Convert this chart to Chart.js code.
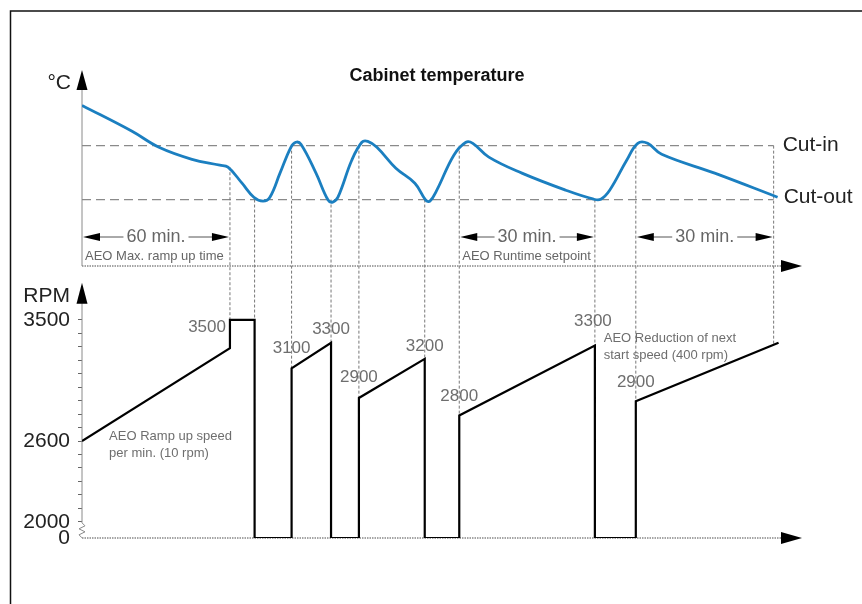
<!DOCTYPE html>
<html>
<head>
<meta charset="utf-8">
<title>Cabinet temperature</title>
<script src="https://cdn.jsdelivr.net/npm/chart.js@4.4.0/dist/chart.umd.min.js"></script>
<style>
  html, body { margin: 0; padding: 0; background: #fff; }
  #wrap { width: 862px; height: 604px; }
</style>
</head>
<body>
<div id="wrap"><canvas id="chart" width="862" height="604"></canvas></div>
<script>
// temperature curve (time in min, schematic °C)
const tempTimes = [0, 20.3, 31.2, 44.6, 55.9, 59.2, 64.9, 69.7, 73.4, 76.2, 80.3, 84.7, 86.7, 88.8,
  94.9, 99.8, 101.7, 103.8, 109.4, 113.5, 115.9, 119.6, 127.3, 135, 139.4, 141.1, 143.9, 150.8,
  155.7, 158.5, 165, 178.4, 196.2, 207.5, 210.4, 214, 220.9, 225.4, 229.4, 235.1, 256.6, 282.1];
const tempValues = [9.24, 7.8, 6.91, 6.24, 5.91, 5.8, 4.91, 4.13, 3.91, 4.13, 5.47, 6.91, 7.19, 7.08,
  5.47, 3.97, 3.86, 4.13, 6.19, 7.19, 7.24, 6.91, 5.74, 4.91, 3.97, 3.91, 4.52, 6.47,
  7.19, 7.13, 6.36, 5.47, 4.52, 4.02, 4.02, 4.52, 6.19, 7.13, 7.13, 6.52, 5.47, 4.13];
const cutIn = 7;
const cutOut = 4;
const thresholdEnd = 280.5;

// compressor speed (0 = off)
const rpmTimes = [0, 60, 60, 70, 70, 85, 85, 101, 101, 112.3, 112.3, 139, 139, 153, 153, 208, 208, 224.6, 224.6, 282.5];
const rpmValues = [2600, 3290, 3500, 3500, 0, 0, 3140, 3330, 0, 0, 2920, 3210, 0, 0, 2790, 3310, 0, 0, 2896, 3330];
const rpmTickLabels = [2000, 2600, 3500];

// switching moments linking both plots
const markerTimes = [60, 70, 85, 101, 112.3, 139, 153, 208, 224.6, 280.5];
const markerTemp = [5.8, 4, 7, 4, 7, 4, 7, 4, 7, 7];
const markerRpm = [3290, 3500, 3140, 3330, 2920, 3210, 2790, 3310, 2896, 3315];

// speed labels at each start / stop
const speedLabels = ['3500', '3100', '3300', '2900', '3200', '2800', '3300', '2900'];
const speedLabelTimes = [60, 85, 101, 112.3, 139, 153, 208, 224.6];
const speedLabelRpm = [3500, 3140, 3330, 2920, 3210, 2790, 3310, 2896];

// time spans
const spanStart = [0, 153, 224.6];
const spanEnd = [60, 208, 280.5];
const spanLabels = ['60 min.', '30 min.', '30 min.'];
const spanNotes = ['AEO Max. ramp up time', 'AEO Runtime setpoint', ''];

const RPM_BREAK = 1880; // where "0" sits below the axis break
const FONT = '"Liberation Sans", Arial, sans-serif';

function tri(ctx, x, y, dir, len, half) {
  ctx.beginPath();
  ctx.moveTo(x, y);
  if (dir === 'up') { ctx.lineTo(x - half, y + len); ctx.lineTo(x + half, y + len); }
  else if (dir === 'right') { ctx.lineTo(x - len, y - half); ctx.lineTo(x - len, y + half); }
  else { ctx.lineTo(x + len, y - half); ctx.lineTo(x + len, y + half); }
  ctx.closePath();
  ctx.fill();
}
function seg(ctx, x0, y0, x1, y1) {
  ctx.beginPath(); ctx.moveTo(x0, y0); ctx.lineTo(x1, y1); ctx.stroke();
}

const decor = {
  id: 'decor',
  beforeDatasetsDraw(chart) {
    const { ctx, scales: { x, yT, yR } } = chart;
    const X = v => x.getPixelForValue(v);
    const T = v => yT.getPixelForValue(v);
    const R = v => yR.getPixelForValue(v === 0 ? RPM_BREAK : v);
    const ax = X(0);
    ctx.save();

    // cut-in / cut-out levels
    ctx.strokeStyle = '#8a8a8a'; ctx.lineWidth = 1.2; ctx.setLineDash([9, 5]);
    [cutIn, cutOut].forEach(v => seg(ctx, ax, T(v), X(thresholdEnd), T(v)));

    // switching markers
    ctx.strokeStyle = '#777'; ctx.lineWidth = 1; ctx.setLineDash([3, 2]);
    markerTimes.forEach((t, i) => seg(ctx, X(t), T(markerTemp[i]), X(t), R(markerRpm[i])));

    // x axes (dotted) with arrows
    ctx.strokeStyle = '#888'; ctx.lineWidth = 1.5; ctx.setLineDash([1.5, 1]);
    const xr = X(x.max);
    [T(yT.min), R(0)].forEach(y => seg(ctx, ax, y, xr - 18, y));
    ctx.setLineDash([]);
    ctx.fillStyle = '#000';
    [T(yT.min), R(0)].forEach(y => tri(ctx, xr, y, 'right', 21, 6));

    // y axes
    ctx.strokeStyle = '#8a8a8a'; ctx.lineWidth = 1;
    const tTop = yT.top - 2;
    seg(ctx, ax, tTop + 18, ax, T(yT.min));
    tri(ctx, ax, tTop, 'up', 20, 5.5);
    const rTop = R(3500) - 37;
    const b = R(2000) + 1;
    ctx.beginPath();
    ctx.moveTo(ax, rTop + 18);
    ctx.lineTo(ax, b);
    ctx.lineTo(ax + 3, b + 3);
    ctx.lineTo(ax - 3, b + 6);
    ctx.lineTo(ax + 3, b + 9);
    ctx.lineTo(ax - 3, b + 12);
    ctx.lineTo(ax, b + 15);
    ctx.lineTo(ax, R(0));
    ctx.stroke();
    tri(ctx, ax, rTop, 'up', 21, 5.5);
    ctx.restore();
  },
  afterDatasetsDraw(chart) {
    const { ctx, scales: { x, yT, yR } } = chart;
    const X = v => x.getPixelForValue(v);
    const T = v => yT.getPixelForValue(v);
    const R = v => yR.getPixelForValue(v === 0 ? RPM_BREAK : v);
    const ax = X(0);
    ctx.save();
    ctx.textBaseline = 'middle';

    // axis names
    ctx.fillStyle = '#222';
    ctx.font = '21px ' + FONT;
    ctx.textAlign = 'right';
    ctx.fillText('°C', ax - 11, yT.top + 11);
    ctx.fillText('RPM', ax - 12, R(3500) - 24);

    // title
    ctx.textAlign = 'center';
    ctx.font = 'bold 18px ' + FONT;
    ctx.fillStyle = '#111';
    ctx.fillText('Cabinet temperature', X(144), yT.top + 4);

    // threshold names
    ctx.textAlign = 'left';
    ctx.font = '21px ' + FONT;
    ctx.fillStyle = '#222';
    ctx.fillText('Cut-in', X(thresholdEnd) + 9, T(cutIn));
    ctx.fillText('Cut-out', X(thresholdEnd) + 10, T(cutOut) - 2);

    // time spans
    const dy = T(yT.min) - 29;
    spanLabels.forEach((lab, i) => {
      const x0 = X(spanStart[i]), x1 = X(spanEnd[i]);
      ctx.font = '18px ' + FONT;
      const w = ctx.measureText(lab).width;
      const cx = (x0 + x1) / 2;
      ctx.strokeStyle = '#555'; ctx.lineWidth = 1;
      seg(ctx, x0 + 16, dy, cx - w / 2 - 3, dy);
      seg(ctx, cx + w / 2 + 3, dy, x1 - 16, dy);
      ctx.fillStyle = '#000';
      tri(ctx, x0 + 1, dy, 'left', 17, 4);
      tri(ctx, x1 - 1, dy, 'right', 17, 4);
      ctx.fillStyle = '#666';
      ctx.textAlign = 'center';
      ctx.fillText(lab, cx, dy);
      if (spanNotes[i]) {
        ctx.font = '13px ' + FONT;
        ctx.textAlign = 'left';
        ctx.fillText(spanNotes[i], x0 + 3, dy + 19);
      }
    });

    // speed labels
    ctx.font = '17px ' + FONT;
    ctx.fillStyle = '#6e6e6e';
    speedLabels.forEach((lab, i) => {
      const px = X(speedLabelTimes[i]), py = R(speedLabelRpm[i]);
      if (i === 0) {
        ctx.textAlign = 'right';
        ctx.fillText(lab, px - 4, py + 7);
      } else {
        ctx.textAlign = 'center';
        const off = [0, -20, -13, -21, -13, -19, -24, -19][i];
        ctx.fillText(lab, px - (i === 6 ? 2 : 0), py + off);
      }
    });

    // notes
    ctx.font = '13px ' + FONT;
    ctx.textAlign = 'left';
    ctx.fillText('AEO Ramp up speed', X(11), R(2600) - 5);
    ctx.fillText('per min. (10 rpm)', X(11), R(2600) + 12);
    ctx.fillText('AEO Reduction of next', X(211.6), R(3500) + 19);
    ctx.fillText('start speed (400 rpm)', X(211.6), R(3500) + 36);

    // frame
    ctx.strokeStyle = '#111'; ctx.lineWidth = 1.5;
    ctx.beginPath();
    ctx.moveTo(10.5, chart.height); ctx.lineTo(10.5, 11); ctx.lineTo(chart.width, 11);
    ctx.stroke();
    ctx.restore();
  }
};

const rpmTicks = [RPM_BREAK];
for (let v = 2000; v <= 3500; v += 100) rpmTicks.push(v);

new Chart(document.getElementById('chart'), {
  type: 'line',
  data: {
    datasets: [
      {
        label: 'Cabinet temperature',
        data: tempTimes.map((t, i) => ({ x: t, y: tempValues[i] })),
        yAxisID: 'yT',
        borderColor: '#1b7fc0',
        borderWidth: 2.8,
        pointRadius: 0,
        tension: 0.4,
        fill: false
      },
      {
        label: 'RPM',
        data: rpmTimes.map((t, i) => ({ x: t, y: rpmValues[i] === 0 ? RPM_BREAK : rpmValues[i] })),
        yAxisID: 'yR',
        borderColor: '#000',
        borderWidth: 2.2,
        pointRadius: 0,
        tension: 0,
        fill: false
      }
    ]
  },
  options: {
    responsive: false,
    animation: false,
    layout: { padding: { top: 72, right: 60, bottom: 66, left: 0 } },
    plugins: { legend: { display: false }, tooltip: { enabled: false } },
    scales: {
      x: { type: 'linear', min: 0, max: 292, display: false },
      yT: {
        type: 'linear', position: 'left', stack: 'v', stackWeight: 194, weight: 2,
        min: 0.3, max: 11.1,
        ticks: { display: false },
        grid: { display: false },
        border: { display: false },
        afterFit: s => { s.width = 82; }
      },
      yR: {
        type: 'linear', position: 'left', stack: 'v', stackWeight: 272, weight: 1,
        min: RPM_BREAK, max: 3900,
        afterBuildTicks: s => { s.ticks = rpmTicks.map(v => ({ value: v })); },
        ticks: {
          autoSkip: false,
          padding: 8,
          color: '#222',
          font: { family: FONT, size: 21 },
          callback: v => v === RPM_BREAK ? '0' : (rpmTickLabels.includes(v) ? String(v) : '')
        },
        grid: {
          drawOnChartArea: false,
          drawTicks: true,
          tickLength: 4,
          color: c => (c.tick && c.tick.value === RPM_BREAK) ? 'rgba(0,0,0,0)' : '#666'
        },
        border: { display: false },
        afterFit: s => { s.width = 82; }
      }
    }
  },
  plugins: [decor]
});
</script>
</body>
</html>
